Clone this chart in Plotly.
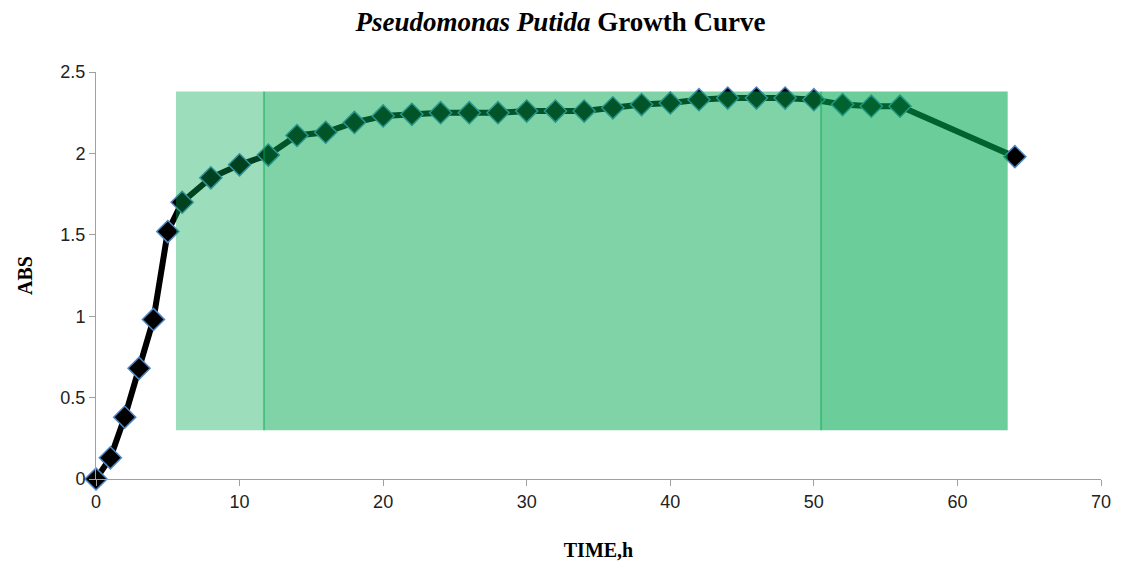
import plotly.graph_objects as go

time_h = [0, 1, 2, 3, 4, 5, 6, 8, 10, 12, 14, 16, 18, 20, 22, 24, 26, 28, 30,
          32, 34, 36, 38, 40, 42, 44, 46, 48, 50, 52, 54, 56, 64]
abs_vals = [0.0, 0.13, 0.38, 0.68, 0.98, 1.52, 1.70, 1.85, 1.93, 1.99, 2.11, 2.13,
            2.19, 2.23, 2.24, 2.25, 2.25, 2.25, 2.26, 2.26, 2.26, 2.28, 2.30, 2.31,
            2.33, 2.34, 2.34, 2.34, 2.33, 2.30, 2.29, 2.29, 1.98]

# shaded phase regions
phase_x0 = [5.57, 11.7, 50.5]
phase_x1 = [11.7, 50.5, 63.5]
phase_opacity = [0.39, 0.50, 0.58]
phase_y0, phase_y1 = 0.30, 2.38
boundary_x = [11.7, 50.5]

x_ticks = [0, 10, 20, 30, 40, 50, 60, 70]
y_ticks = [0, 0.5, 1, 1.5, 2, 2.5]
y_tick_text = ["0", "0.5", "1", "1.5", "2", "2.5"]

fig = go.Figure()
fig.add_trace(go.Scatter(
    x=time_h, y=abs_vals, mode="lines+markers",
    line=dict(color="black", width=6),
    marker=dict(symbol="diamond", size=17, color="black",
                line=dict(color="#4F86C6", width=1.5)),
    cliponaxis=False, showlegend=False, hoverinfo="skip",
))

shapes = []
for x0, x1, op in zip(phase_x0, phase_x1, phase_opacity):
    shapes.append(dict(type="rect", xref="x", yref="y", x0=x0, x1=x1,
                       y0=phase_y0, y1=phase_y1, fillcolor="#00A850",
                       opacity=op, line=dict(width=0), layer="above"))
for bx in boundary_x:
    shapes.append(dict(type="line", xref="x", yref="y", x0=bx, x1=bx,
                       y0=phase_y0, y1=phase_y1,
                       line=dict(color="rgba(0,168,80,0.45)", width=2),
                       layer="above"))

fig.update_layout(
    width=1121, height=566,
    margin=dict(l=96, r=20, t=72, b=87, autoexpand=False),
    paper_bgcolor="white", plot_bgcolor="white",
    shapes=shapes,
    title=dict(text="<b><i>Pseudomonas Putida</i> Growth Curve</b>",
               x=0.5, xanchor="center", y=1 - 22 / 566, yanchor="middle",
               yref="container",
               font=dict(family="Liberation Serif", size=27, color="black")),
    xaxis=dict(range=[0, 70], tickvals=x_ticks, showgrid=False, zeroline=False,
               showline=True, linecolor="#A0A0A0", linewidth=1,
               ticks="outside", ticklen=6, tickcolor="#A0A0A0", automargin=False,
               tickfont=dict(family="Liberation Sans", size=18, color="#222"),
               title=dict(text="<b>TIME,h</b>", standoff=32,
                          font=dict(family="Liberation Serif", size=20, color="black"))),
    yaxis=dict(range=[0, 2.5], tickvals=y_ticks, ticktext=y_tick_text,
               showgrid=False, zeroline=False,
               showline=True, linecolor="#A0A0A0", linewidth=1,
               ticks="outside", ticklen=6, tickcolor="#A0A0A0", automargin=False,
               tickfont=dict(family="Liberation Sans", size=18, color="#222"),
               title=dict(text="<b>ABS</b>", standoff=22,
                          font=dict(family="Liberation Serif", size=20, color="black"))),
)

fig.write_html("out.html", config={"displayModeBar": False},
               post_script="document.body.style.margin='0';document.body.style.overflow='hidden';")
